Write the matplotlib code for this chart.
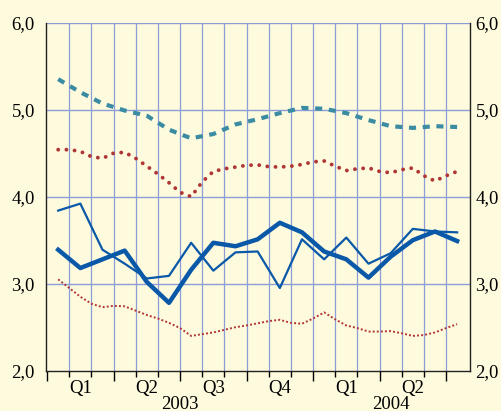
import numpy as np
import matplotlib
matplotlib.use("Agg")
import matplotlib.pyplot as plt

# monthly series, Jan 2003 - Jul 2004 (plotted at mid-month)
months = np.arange(19) + 0.5
thick_blue = [3.39, 3.18, 3.28, 3.38, 3.02, 2.78, 3.16, 3.47, 3.43, 3.51,
              3.70, 3.59, 3.37, 3.28, 3.07, 3.31, 3.50, 3.60, 3.49]
thin_blue = [3.84, 3.92, 3.39, 3.23, 3.06, 3.09, 3.47, 3.15, 3.36, 3.37,
             2.95, 3.51, 3.28, 3.53, 3.23, 3.35, 3.63, 3.60, 3.59]
teal_dash = [5.35, 5.20, 5.07, 4.99, 4.93, 4.77, 4.67, 4.72, 4.83, 4.89,
             4.96, 5.02, 5.01, 4.96, 4.88, 4.81, 4.79, 4.81, 4.80]

# half-monthly series
half = np.arange(1, 38) * 0.5
red_upper = [4.54, 4.54, 4.52, 4.46, 4.44, 4.50, 4.51, 4.44, 4.35, 4.26,
             4.16, 4.05, 4.00, 4.17, 4.29, 4.32, 4.34, 4.36, 4.365, 4.345,
             4.34, 4.35, 4.37, 4.40, 4.41, 4.35, 4.30, 4.32, 4.33, 4.29,
             4.275, 4.31, 4.33, 4.24, 4.18, 4.24, 4.29]
red_lower = [3.05, 2.95, 2.85, 2.77, 2.73, 2.745, 2.74, 2.69, 2.64, 2.60,
             2.55, 2.49, 2.40, 2.42, 2.44, 2.47, 2.50, 2.52, 2.545, 2.57,
             2.585, 2.55, 2.54, 2.60, 2.67, 2.59, 2.52, 2.49, 2.45, 2.45,
             2.455, 2.43, 2.40, 2.41, 2.44, 2.49, 2.535]

quarters = ["Q1", "Q2", "Q3", "Q4", "Q1", "Q2"]
quarter_pos = [1.5, 4.5, 7.5, 10.5, 13.5, 16.5]
years = ["2003", "2004"]
year_pos = [6, 15.5]
yticks = [2, 3, 4, 5, 6]
ylabels = [f"{v:.1f}".replace(".", ",") for v in yticks]

bg = "#fefadd"
grid_c = "#8c9ed8"
blue = "#0a58a8"
teal = "#3b8ca3"
red = "#b03636"
fs = 13.5

plt.rcParams["font.family"] = ["Liberation Serif", "DejaVu Serif"]

fig = plt.figure(figsize=(5.01, 4.11), dpi=100, facecolor=bg)
ax = fig.add_axes([0.0918, 0.098, 0.8463, 0.847])
ax.set_facecolor(bg)

# grid
for m in range(1, 19):
    ax.axvline(m, color=grid_c, lw=0.9, zorder=1)
for v in [3, 4, 5, 6]:
    ax.axhline(v, color=grid_c, lw=1.0, zorder=1)

ax.plot(half, red_lower, color=red, lw=1.4, linestyle=(0, (1, 1.1)),
        dash_capstyle="butt", zorder=3)
ax.plot(half, red_upper, color=red, lw=2.8, linestyle=(0, (0.01, 2.1)),
        dash_capstyle="round", zorder=3)
ax.plot(months, teal_dash, color=teal, lw=3.0, linestyle=(0, (1.7, 1.6)),
        dash_capstyle="butt", zorder=3)
ax.plot(months, thin_blue, color=blue, lw=1.6, zorder=4)
ax.plot(months, thick_blue, color=blue, lw=3.2, zorder=5)

ax.set_xlim(-0.05, 19.08)
ax.set_ylim(2, 6)

ax.set_yticks(yticks)
ax.set_yticklabels(ylabels)
ax.tick_params(axis="y", length=0, labelsize=fs, pad=8)

# right-hand labels
ax2 = ax.twinx()
ax2.set_ylim(2, 6)
ax2.set_yticks(yticks)
ax2.set_yticklabels(ylabels)
ax2.tick_params(axis="y", length=0, labelsize=fs, pad=4)
for s in ax2.spines.values():
    s.set_visible(False)

ax.set_xticks(range(0, 19, 3))
ax.set_xticks([m for m in range(1, 19) if m % 3], minor=True)
ax.set_xticklabels([])
ax.tick_params(axis="x", which="major", length=7, width=1.0, direction="out")
ax.tick_params(axis="x", which="minor", length=4, width=1.0, direction="out")

ax.spines["top"].set_visible(False)
for s in ["left", "right", "bottom"]:
    ax.spines[s].set_color("#222222")
    ax.spines[s].set_linewidth(1.0)

for q, p in zip(quarters, quarter_pos):
    ax.text(p, -0.05, q, ha="center", va="center", fontsize=fs,
            transform=ax.get_xaxis_transform())
for y, p in zip(years, year_pos):
    ax.text(p, -0.096, y, ha="center", va="center", fontsize=fs,
            transform=ax.get_xaxis_transform())

fig.savefig("out.png", dpi=100, facecolor=bg)
